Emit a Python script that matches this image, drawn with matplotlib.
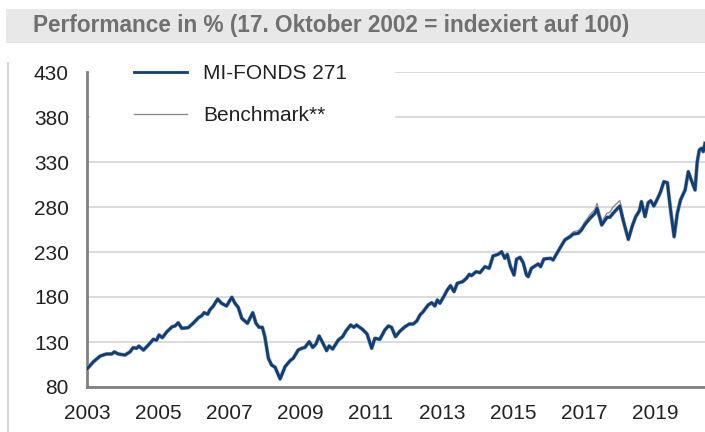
import matplotlib
matplotlib.use('Agg')
import matplotlib.pyplot as plt
from matplotlib.patches import Rectangle
from matplotlib.lines import Line2D

plt.rcParams['font.family'] = ['Liberation Sans', 'DejaVu Sans']

title = 'Performance in % (17. Oktober 2002 = indexiert auf 100)'
fund_label = 'MI-FONDS 271'
bench_label = 'Benchmark**'

# decimal years
dates = [2003.00, 2003.18, 2003.37, 2003.55, 2003.70, 2003.77, 2003.88, 2004.07, 2004.21, 2004.30,
         2004.40, 2004.46, 2004.59, 2004.73, 2004.87, 2004.96, 2005.03, 2005.12, 2005.25, 2005.40,
         2005.48, 2005.57, 2005.67, 2005.85, 2005.99, 2006.14, 2006.23, 2006.30, 2006.40, 2006.46,
         2006.56, 2006.68, 2006.79, 2006.93, 2007.08, 2007.17, 2007.26, 2007.36, 2007.52, 2007.67,
         2007.76, 2007.85, 2007.94, 2008.01, 2008.11, 2008.20, 2008.30, 2008.44, 2008.58, 2008.72,
         2008.81, 2008.95, 2009.05, 2009.14, 2009.26, 2009.36, 2009.45, 2009.54, 2009.64, 2009.75,
         2009.82, 2009.92, 2010.08, 2010.20, 2010.30, 2010.43, 2010.52, 2010.59, 2010.76, 2010.89,
         2011.02, 2011.11, 2011.25, 2011.39, 2011.49, 2011.58, 2011.69, 2011.82, 2011.96, 2012.08,
         2012.19, 2012.29, 2012.38, 2012.47, 2012.61, 2012.71, 2012.80, 2012.87, 2012.94, 2013.06,
         2013.15, 2013.24, 2013.34, 2013.43, 2013.58, 2013.69, 2013.77, 2013.83, 2013.96, 2014.07,
         2014.21, 2014.33, 2014.44, 2014.58, 2014.68, 2014.77, 2014.84, 2014.93, 2015.03, 2015.10,
         2015.20, 2015.29, 2015.38, 2015.43, 2015.52, 2015.71, 2015.78, 2015.87, 2016.06, 2016.13,
         2016.32, 2016.46, 2016.61, 2016.70, 2016.84, 2016.93, 2017.03, 2017.17, 2017.31, 2017.37,
         2017.50, 2017.65, 2017.73, 2017.82, 2018.01, 2018.10, 2018.25, 2018.37, 2018.46, 2018.56,
         2018.62, 2018.72, 2018.81, 2018.88, 2018.97, 2019.09, 2019.16, 2019.25, 2019.35, 2019.44,
         2019.54, 2019.63, 2019.72, 2019.85, 2019.94, 2020.03, 2020.13, 2020.19, 2020.25, 2020.31,
         2020.36, 2020.41]

fund = [100.0, 108.0, 114.4, 116.7, 116.7, 119.0, 116.7, 115.5, 119.0, 123.7,
        123.0, 125.5, 121.0, 126.7, 133.0, 132.0, 137.8, 134.8, 141.4, 147.0,
        147.8, 151.4, 145.2, 145.9, 150.8, 157.0, 159.2, 162.6, 160.8, 165.6,
        170.0, 177.8, 173.0, 170.0, 179.7, 173.0, 168.5, 156.3, 150.8, 162.6,
        150.8, 146.3, 146.3, 135.9, 111.9, 104.4, 101.9, 88.9, 102.6, 109.2,
        111.9, 121.1, 123.0, 124.0, 130.3, 124.0, 127.8, 136.7, 129.2, 120.4,
        125.6, 122.2, 132.2, 135.9, 142.6, 148.9, 146.3, 148.9, 144.1, 138.9,
        123.0, 134.1, 133.0, 143.3, 147.8, 146.3, 135.9, 142.2, 147.0, 150.0,
        150.0, 153.3, 160.0, 163.7, 171.1, 173.7, 170.0, 176.7, 173.0, 181.1,
        187.8, 192.6, 185.9, 195.2, 197.0, 200.8, 205.2, 203.7, 208.1, 207.0,
        213.7, 211.9, 225.6, 227.4, 230.3, 223.0, 227.4, 213.7, 204.4, 221.9,
        224.1, 218.0, 204.4, 202.6, 211.9, 216.7, 213.7, 222.2, 223.0, 221.1,
        234.1, 243.3, 247.0, 250.0, 250.8, 254.4, 260.8, 267.4, 273.0, 278.5,
        260.0, 268.6, 268.6, 273.0, 281.1, 266.0, 244.0, 260.0, 269.3, 275.6,
        286.0, 269.3, 284.8, 287.0, 281.1, 290.7, 297.0, 308.1, 307.0, 276.7,
        247.0, 273.0, 287.8, 298.9, 319.3, 309.3, 298.9, 330.0, 343.3, 345.2,
        341.5, 350.7]

bench = [100.0, 108.0, 114.4, 116.7, 116.7, 119.0, 116.7, 115.5, 119.0, 123.7,
         123.0, 125.5, 121.0, 126.7, 133.0, 132.0, 137.8, 134.8, 141.4, 147.0,
         147.8, 151.4, 145.2, 145.9, 150.8, 157.0, 159.2, 162.6, 160.8, 165.6,
         170.0, 177.8, 173.0, 170.0, 179.7, 173.0, 168.5, 156.3, 150.8, 162.6,
         150.8, 146.3, 146.3, 135.9, 111.9, 104.4, 101.9, 88.9, 102.6, 109.2,
         111.9, 121.1, 123.0, 124.0, 130.3, 124.0, 127.8, 136.7, 129.2, 120.4,
         125.6, 122.2, 132.2, 135.9, 142.6, 148.9, 146.3, 148.9, 144.1, 138.9,
         123.0, 134.1, 133.0, 143.3, 147.8, 146.3, 135.9, 142.2, 147.0, 150.0,
         150.0, 153.3, 160.0, 163.7, 171.1, 173.7, 170.0, 176.7, 173.0, 181.1,
         187.8, 192.6, 185.9, 195.2, 197.0, 200.8, 205.2, 203.7, 208.1, 207.0,
         213.7, 211.9, 225.6, 227.4, 230.3, 223.0, 227.4, 213.7, 204.4, 221.9,
         224.1, 218.0, 204.4, 202.6, 211.9, 216.7, 213.7, 222.2, 223.5, 221.8,
         235.1, 244.8, 249.0, 252.5, 253.8, 257.4, 263.8, 271.4, 277.5, 284.0,
         264.0, 273.1, 274.1, 280.0, 287.1, 271.0, 246.0, 261.0, 269.8, 276.0,
         286.5, 269.8, 285.3, 287.5, 281.6, 291.2, 297.5, 308.6, 307.5, 277.2,
         247.5, 273.5, 288.3, 299.4, 319.8, 309.8, 299.4, 330.5, 343.8, 345.7,
         342.0, 351.2]

yticks = [80, 130, 180, 230, 280, 330, 380, 430]
xticks = [2003, 2005, 2007, 2009, 2011, 2013, 2015, 2017, 2019]

fig = plt.figure(figsize=(7.05, 4.32), dpi=100)
ax = fig.add_axes([87 / 705, 45 / 432, 618 / 705, 315 / 432])

# title bar
fig.patches.append(Rectangle((6 / 705, (432 - 43) / 432), 1, 34 / 432, transform=fig.transFigure,
                             facecolor='#e8e8e8', edgecolor='none'))
fig.text(33 / 705, (432 - 32) / 432, title, fontsize=16.3, fontweight='bold', color='#707070',
         va='baseline', ha='left')
fig.lines.append(Line2D([8 / 705, 8 / 705], [0, (432 - 63) / 432], transform=fig.transFigure,
                        color='#d4d4d4', lw=1.5))

ax.plot(dates, fund, color='#9a9a9a', lw=2.8, zorder=3, solid_joinstyle='round')
ax.plot(dates, bench, color='#8c8c8c', lw=1.0, zorder=4, label=bench_label)
ax.plot(dates, fund, color='#0b3f7c', lw=2.0, zorder=5, label=fund_label, solid_joinstyle='round')

ax.set_xlim(2003, 2020.41)
ax.set_ylim(80, 430)
ax.set_yticks(yticks)
ax.set_xticks(xticks)
ax.tick_params(axis='both', length=0, labelsize=15, labelcolor='#222222')
ax.tick_params(axis='y', pad=13)
ax.tick_params(axis='x', pad=12)
ax.grid(axis='y', color='#d4d4d4', lw=1.2, zorder=0)
ax.set_axisbelow(True)
for s in ['top', 'right']:
    ax.spines[s].set_visible(False)
for s in ['left', 'bottom']:
    ax.spines[s].set_color('#808080')
    ax.spines[s].set_linewidth(2)

# white block behind the legend
ax.add_patch(Rectangle((0.005, 0.83), 0.493, 0.2, transform=ax.transAxes, facecolor='white',
                       edgecolor='none', zorder=1, clip_on=False))

handles, labels = ax.get_legend_handles_labels()
leg = ax.legend(handles[::-1], labels[::-1], loc='upper left', bbox_to_anchor=(0.045, 1.085),
                frameon=False, fontsize=15, handlelength=2.55, handletextpad=0.8, labelspacing=1.1)
for t in leg.get_texts():
    t.set_color('#222222')

plt.savefig('out.png', dpi=100)
plt.close()
